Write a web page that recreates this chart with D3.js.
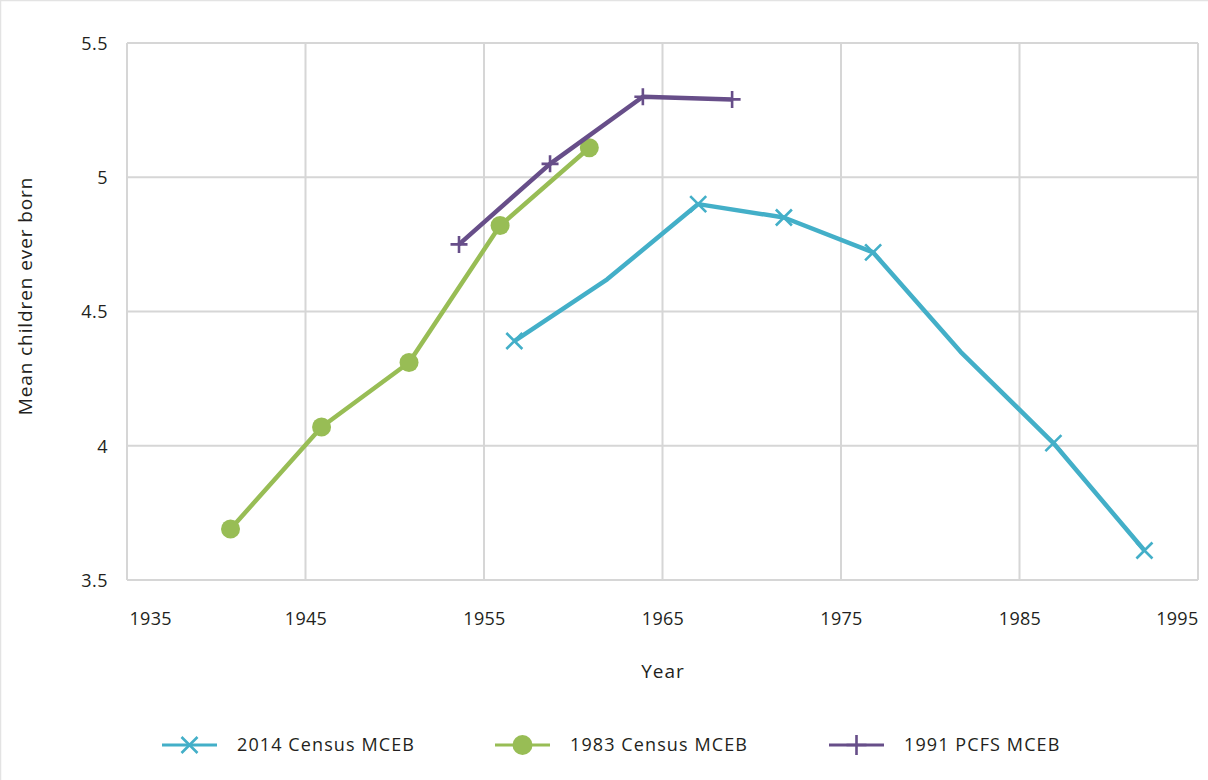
<!DOCTYPE html>
<html><head><meta charset="utf-8">
<script src="https://cdn.jsdelivr.net/npm/d3@7"></script>
<style>
html,body{margin:0;padding:0;background:#fff;}
svg{display:block;}
text{font-family:"Open Sans",sans-serif;fill:#231f20;}
</style></head>
<body><svg id="c" width="1208" height="780"></svg>
<script>
const xTicks = [1935, 1945, 1955, 1965, 1975, 1985, 1995];
const yTicks = [3.5, 4, 4.5, 5, 5.5];
const yTickLabels = ["3.5", "4", "4.5", "5", "5.5"];

const seriesNames = ["2014 Census MCEB", "1983 Census MCEB", "1991 PCFS MCEB"];

const census2014Years = [1956.7, 1961.9, 1967.0, 1971.8, 1976.8, 1981.7, 1986.9, 1992.0];
const census2014Values = [4.39, 4.62, 4.90, 4.85, 4.72, 4.35, 4.01, 3.61];
const census2014Marker = [true, false, true, true, true, false, true, true];

const census1983Years = [1940.8, 1945.9, 1950.8, 1955.9, 1960.9];
const census1983Values = [3.69, 4.07, 4.31, 4.82, 5.11];

const pcfs1991Years = [1953.6, 1958.7, 1963.9, 1968.9];
const pcfs1991Values = [4.75, 5.05, 5.30, 5.29];

const colors = ["#43afc8", "#98bd55", "#674e89"];

const svg = d3.select("#c");
const W = 1208, H = 780;
const x0 = 127, x1 = 1198, yTop = 43, yBot = 580;
const x = d3.scaleLinear().domain([1935, 1995]).range([x0, x1]);
const y = d3.scaleLinear().domain([3.5, 5.5]).range([yBot, yTop]);

// outer border (top + left)
svg.append("line").attr("x1",0).attr("x2",W).attr("y1",0.5).attr("y2",0.5).attr("stroke","#e3e3e3").attr("stroke-width",1.5);
svg.append("line").attr("x1",0.5).attr("x2",0.5).attr("y1",0).attr("y2",H).attr("stroke","#e3e3e3").attr("stroke-width",1.5);

const grid = svg.append("g");
xTicks.forEach(t => grid.append("line").attr("x1", x(t)).attr("x2", x(t)).attr("y1", yTop).attr("y2", yBot)
  .attr("stroke","#d6d6d6").attr("stroke-width",2));
yTicks.forEach(t => grid.append("line").attr("x1", x0).attr("x2", x1).attr("y1", y(t)).attr("y2", y(t))
  .attr("stroke","#d6d6d6").attr("stroke-width",2));

const xAxis = d3.axisBottom(x).tickValues(xTicks).tickFormat(d3.format("d")).tickSize(0).tickPadding(0);
const gx = svg.append("g").attr("transform", `translate(0,${yBot})`).call(xAxis);
gx.select(".domain").remove();
gx.selectAll("text").attr("y", 45).attr("dy", 0).style("font-size","18px").style("fill","#231f20")
  .style("font-family","'Open Sans',sans-serif").style("letter-spacing","0.3px")
  .attr("text-anchor", (d,i) => i === 0 ? "start" : (i === xTicks.length-1 ? "end" : "middle"))
  .attr("dx", (d,i) => i === 0 ? 2 : 0);

const yAxis = d3.axisLeft(y).tickValues(yTicks).tickFormat((d,i) => yTickLabels[i]).tickSize(0).tickPadding(0);
const gy = svg.append("g").attr("transform", `translate(108,0)`).call(yAxis);
gy.select(".domain").remove();
gy.selectAll("text").attr("x", 0).attr("dy", "0.35em").style("font-size","18px").style("fill","#231f20")
  .style("font-family","'Open Sans',sans-serif").style("letter-spacing","0.5px");

svg.append("text").attr("x", 663).attr("y", 678).attr("text-anchor","middle").style("font-size","19px")
  .style("letter-spacing","1px").text("Year");
svg.append("text").attr("transform","translate(32,296) rotate(-90)").attr("text-anchor","middle")
  .style("font-size","19px").style("letter-spacing","0.9px").text("Mean children ever born");

const line = d3.line().x(d => x(d[0])).y(d => y(d[1]));

function xMark(g, cx, cy, s, color){
  g.append("path").attr("d", `M${cx-s},${cy-s}L${cx+s},${cy+s}M${cx-s},${cy+s}L${cx+s},${cy-s}`)
    .attr("stroke", color).attr("stroke-width", 2.6).attr("fill","none");
}
function plusMark(g, cx, cy, s, color){
  g.append("path").attr("d", `M${cx-s},${cy}L${cx+s},${cy}M${cx},${cy-s}L${cx},${cy+s}`)
    .attr("stroke", color).attr("stroke-width", 2.6).attr("fill","none");
}

const d2014 = census2014Years.map((yr,i) => [yr, census2014Values[i]]);
svg.append("path").datum(d2014).attr("d", line).attr("fill","none").attr("stroke",colors[0]).attr("stroke-width",4.5).attr("stroke-linejoin","round");
const g2014 = svg.append("g");
d2014.forEach((d,i) => { if (census2014Marker[i]) xMark(g2014, x(d[0]), y(d[1]), 8, colors[0]); });

const d1983 = census1983Years.map((yr,i) => [yr, census1983Values[i]]);
svg.append("path").datum(d1983).attr("d", line).attr("fill","none").attr("stroke",colors[1]).attr("stroke-width",4.5).attr("stroke-linejoin","round");
svg.append("g").selectAll("circle").data(d1983).join("circle")
  .attr("cx", d => x(d[0])).attr("cy", d => y(d[1])).attr("r", 9.5).attr("fill", colors[1]);

const d1991 = pcfs1991Years.map((yr,i) => [yr, pcfs1991Values[i]]);
svg.append("path").datum(d1991).attr("d", line).attr("fill","none").attr("stroke",colors[2]).attr("stroke-width",4.5).attr("stroke-linejoin","round");
const g1991 = svg.append("g");
d1991.forEach(d => plusMark(g1991, x(d[0]), y(d[1]), 8.5, colors[2]));

const legX = [162, 495, 829];
const ly = 745;
const leg = svg.append("g");
seriesNames.forEach((name,i) => {
  const lx = legX[i];
  leg.append("line").attr("x1", lx).attr("x2", lx+55).attr("y1", ly).attr("y2", ly).attr("stroke", colors[i]).attr("stroke-width", 3);
  const cx = lx + 27.5;
  if (i === 0) xMark(leg, cx, ly, 8, colors[0]);
  else if (i === 1) leg.append("circle").attr("cx", cx).attr("cy", ly).attr("r", 10).attr("fill", colors[1]);
  else plusMark(leg, cx, ly, 10, colors[2]);
  leg.append("text").attr("x", lx + 75).attr("y", ly).attr("dy","0.36em").style("font-size","18px")
    .style("letter-spacing","1.1px").text(name);
});
</script></body></html>
